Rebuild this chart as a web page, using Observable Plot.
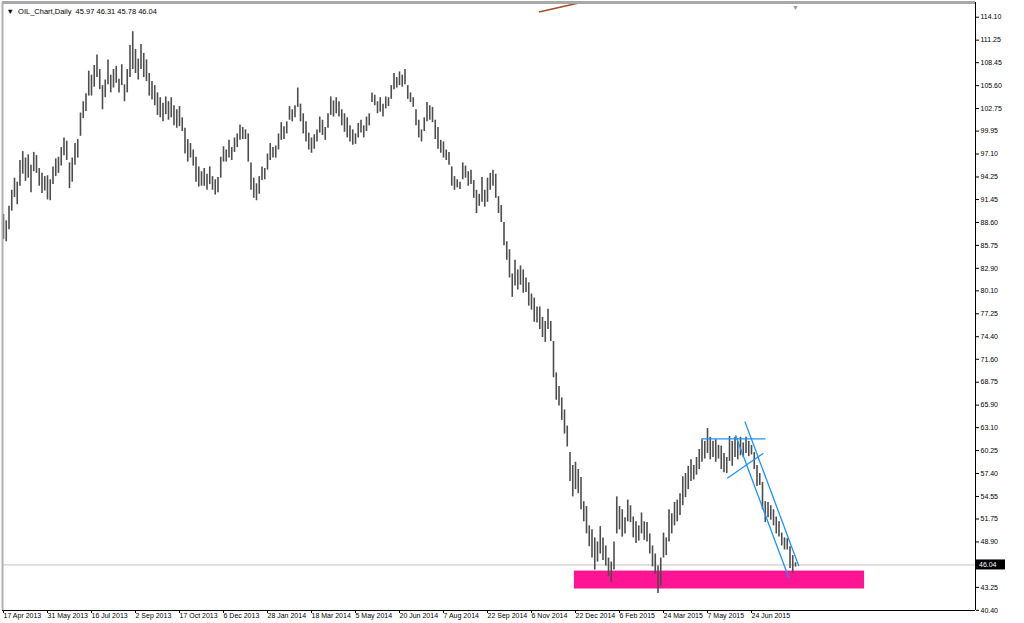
<!DOCTYPE html>
<html>
<head>
<meta charset="utf-8">
<script src="https://cdn.jsdelivr.net/npm/d3@7"></script>
<script src="https://cdn.jsdelivr.net/npm/@observablehq/plot@0.6"></script>
<style>
  html, body { margin: 0; padding: 0; background: #fff; }
  #chart svg { display: block; }
</style>
</head>
<body>
<div id="chart"></div>
<script>
// ---- Data (one bar = two trading days) ----
const symbolTitle = "OIL_Chart,Daily";
const lastBar = [45.97, 46.31, 45.78, 46.04]; // open, high, low, close

const highs = [
  89.6, 88.8, 90.6, 92.6, 94.1, 93.6, 96.3, 97.4, 96.6, 97.0, 95.7, 97.3, 96.9, 95.3, 94.7, 94.3,
  94.4, 93.9, 95.5, 96.5, 96.7, 97.9, 99.1, 98.7, 96.0, 96.6, 98.4, 98.9, 102.2, 103.6, 104.6, 107.4,
  106.9, 108.1, 109.4, 107.6, 105.6, 106.3, 108.8, 106.9, 107.6, 108.0, 106.4, 108.2, 105.7, 107.6, 110.6, 112.3,
  110.1, 108.9, 110.7, 109.6, 108.8, 107.1, 106.1, 105.6, 104.7, 104.1, 103.4, 104.2, 103.6, 104.1, 103.1, 102.6,
  103.0, 101.6, 100.3, 98.9, 98.4, 97.6, 96.7, 95.5, 94.9, 95.3, 94.6, 95.5, 94.3, 93.9, 94.2, 96.7,
  98.0, 97.6, 98.8, 97.9, 99.1, 99.6, 100.7, 100.4, 100.1, 99.6, 96.0, 94.1, 93.4, 94.3, 95.5, 95.3,
  97.1, 98.4, 97.9, 98.1, 99.6, 101.0, 100.5, 101.1, 103.0, 102.6, 103.1, 105.3, 103.3, 102.1, 101.1, 99.7,
  99.1, 99.5, 100.1, 101.7, 101.3, 100.4, 102.1, 104.2, 103.7, 104.1, 103.6, 102.6, 102.1, 101.6, 100.6, 100.1,
  99.6, 100.9, 101.3, 100.6, 101.7, 102.1, 104.7, 104.4, 103.6, 104.1, 103.3, 104.2, 104.1, 105.6, 107.1, 106.6,
  107.3, 106.9, 107.6, 105.6, 104.7, 104.1, 102.6, 101.3, 100.1, 101.6, 103.5, 103.1, 102.9, 101.3, 100.4, 98.8,
  98.6, 97.6, 97.3, 95.5, 94.3, 93.9, 93.6, 96.0, 95.6, 94.9, 95.1, 93.8, 92.6, 92.1, 94.2, 92.6,
  94.1, 94.7, 95.1, 94.6, 91.8, 90.7, 88.6, 86.2, 85.2, 82.2, 83.9, 82.7, 83.2, 82.7, 81.7, 81.1,
  79.7, 79.2, 78.1, 78.1, 76.8, 76.3, 77.8, 76.3, 73.8, 69.9, 68.2, 66.8, 65.3, 63.3, 60.0, 58.4,
  58.8, 57.9, 56.9, 53.9, 53.3, 50.9, 50.4, 49.4, 48.9, 50.8, 49.4, 48.4, 46.9, 46.4, 48.9, 54.5,
  53.3, 52.9, 51.9, 54.1, 53.4, 52.0, 51.4, 50.9, 52.5, 51.4, 51.3, 49.9, 48.4, 47.4, 45.9, 46.9,
  50.0, 49.4, 52.9, 52.4, 53.8, 54.1, 54.9, 57.0, 57.4, 58.3, 59.1, 58.4, 59.4, 60.4, 61.6, 61.4,
  63.0, 61.9, 61.4, 61.6, 60.9, 60.8, 59.9, 59.4, 62.0, 61.4, 61.9, 61.4, 61.9, 61.2, 61.9, 61.4,
  60.9, 60.0, 58.4, 57.4, 56.3, 53.9, 53.8, 53.4, 52.9, 52.0, 51.4, 50.0, 49.4, 49.3, 48.3, 47.2, 46.31
];
const lows = [
  86.5, 86.2, 87.7, 90.0, 91.7, 90.8, 93.1, 94.6, 93.7, 94.1, 92.3, 94.9, 94.7, 93.1, 92.2, 92.5,
  91.4, 91.3, 93.3, 94.3, 94.7, 95.6, 96.9, 96.3, 92.8, 93.6, 95.7, 96.6, 99.3, 101.5, 102.4, 104.3,
  104.3, 105.4, 106.6, 105.1, 102.6, 104.1, 105.7, 104.7, 105.3, 105.9, 104.7, 105.6, 103.6, 104.7, 106.6, 107.6,
  107.1, 106.3, 107.6, 106.6, 106.1, 104.3, 103.8, 103.1, 101.9, 101.6, 101.1, 102.0, 101.3, 101.6, 100.6, 100.3,
  100.5, 99.9, 97.1, 96.1, 96.6, 95.6, 93.6, 93.0, 93.1, 93.1, 92.6, 93.3, 92.6, 92.0, 92.3, 94.1,
  96.1, 96.1, 96.6, 96.3, 97.3, 97.9, 98.8, 98.9, 98.9, 96.1, 92.6, 91.6, 91.3, 92.1, 93.8, 93.9,
  95.1, 96.3, 96.6, 96.6, 97.6, 98.8, 98.9, 99.6, 101.3, 101.1, 101.6, 102.9, 101.1, 99.6, 98.6, 97.6,
  97.2, 97.7, 98.6, 99.7, 99.4, 98.8, 100.3, 101.9, 101.7, 102.1, 101.7, 100.6, 99.8, 99.1, 98.6, 98.2,
  98.3, 99.1, 99.7, 99.1, 99.9, 100.6, 103.5, 103.1, 102.1, 102.3, 101.7, 102.7, 103.0, 103.9, 105.1, 105.3,
  105.6, 105.4, 105.7, 103.9, 103.5, 102.9, 100.6, 99.1, 98.6, 99.9, 101.1, 101.3, 101.0, 98.9, 97.7, 97.2,
  96.6, 96.3, 95.7, 93.1, 92.6, 92.9, 92.7, 93.9, 94.1, 93.1, 93.3, 91.6, 89.7, 90.6, 91.1, 90.5,
  91.1, 92.6, 93.1, 91.6, 89.7, 88.6, 85.7, 83.9, 81.7, 79.3, 80.7, 80.2, 80.8, 79.8, 79.9, 78.2,
  77.7, 76.2, 76.1, 75.3, 74.3, 73.7, 75.3, 73.8, 69.3, 66.5, 65.8, 64.0, 62.3, 60.7, 56.4, 54.5,
  55.4, 54.9, 52.9, 51.4, 49.9, 48.3, 46.9, 45.4, 46.4, 47.4, 46.6, 45.9, 44.6, 43.9, 45.4, 49.9,
  50.4, 49.5, 49.9, 51.4, 51.3, 49.4, 48.7, 49.0, 49.9, 49.1, 48.9, 47.4, 45.8, 44.9, 42.5, 43.4,
  46.9, 47.2, 48.9, 49.9, 50.9, 51.4, 52.2, 53.4, 54.4, 55.4, 56.4, 56.6, 57.2, 57.9, 58.8, 59.2,
  59.9, 59.1, 59.4, 58.8, 59.2, 57.9, 57.5, 57.4, 58.9, 58.3, 59.4, 59.1, 59.6, 59.4, 59.9, 59.5,
  59.7, 57.9, 55.8, 55.9, 52.9, 51.3, 51.9, 51.6, 50.9, 49.9, 49.5, 48.4, 47.9, 47.9, 45.6, 45.0, 45.78
];

const dateLabels = ["17 Apr 2013","31 May 2013","16 Jul 2013","2 Sep 2013","17 Oct 2013","6 Dec 2013",
  "28 Jan 2014","18 Mar 2014","5 May 2014","20 Jun 2014","7 Aug 2014","22 Sep 2014","6 Nov 2014",
  "22 Dec 2014","6 Feb 2015","24 Mar 2015","7 May 2015","24 Jun 2015"];
const dateLabelBars = [0,16,32,48,64,80,96,112,128,144,160,176,192,208,224,240,256,272];

const priceTicks = [114.10,111.25,108.45,105.60,102.75,99.95,97.10,94.25,91.45,88.60,85.75,82.90,
  80.10,77.25,74.40,71.60,68.75,65.90,63.10,60.25,57.40,54.55,51.75,48.90,43.25,40.40];

const supportZone = [{x1: 207.6, x2: 313.1, y1: 43.05, y2: 45.28}];
const blueTrendLines = [
  {x1: 253.7, y1: 61.70, x2: 277.1, y2: 61.70},
  {x1: 263.2, y1: 56.82, x2: 276.3, y2: 59.93},
  {x1: 266.2, y1: 62.16, x2: 285.6, y2: 44.41},
  {x1: 269.6, y1: 63.85, x2: 289.2, y2: 45.90}
];
const brownTrendLine = [{x1: 194.7, y1: 114.76, x2: 213.5, y2: 116.2}];
const shiftMarkBar = [288];

// ---- Build table ----
const bars = highs.map((h, i) => ({i, high: h, low: lows[i]}));
const xDomain = [-0.36, 353.45];
const yDomain = [40.38, 115.93];
const fmt = d3.format(".2f");
const font = "'Liberation Sans', Arial, sans-serif";

const chart = Plot.plot({
  width: 1024,
  height: 623,
  marginLeft: 2,
  marginRight: 49,
  marginTop: 2,
  marginBottom: 13,
  style: {fontFamily: font, background: "#fff", color: "#000"},
  x: {type: "linear", domain: xDomain, axis: null},
  y: {domain: yDomain, axis: null},
  marks: [
    Plot.ruleY([lastBar[3]], {stroke: "#c4c4c4", strokeWidth: 1}),
    Plot.rect(supportZone, {x1: "x1", x2: "x2", y1: "y1", y2: "y2", fill: "#ff1493"}),
    Plot.ruleX(bars, {x: "i", y1: "low", y2: "high", stroke: "#4d4d4d", strokeWidth: 1.6}),
    Plot.link(blueTrendLines, {x1: "x1", y1: "y1", x2: "x2", y2: "y2", stroke: "#1e90ff", strokeWidth: 1.3}),
    Plot.link(brownTrendLine, {x1: "x1", y1: "y1", x2: "x2", y2: "y2", stroke: "#a0522d", strokeWidth: 1.6, clip: true}),
    Plot.ruleY([yDomain[1]], {stroke: "#a8a8a8", strokeWidth: 3}),
    Plot.ruleX([xDomain[0]], {stroke: "#b0b0b0", strokeWidth: 2}),
    Plot.ruleX([xDomain[1]], {stroke: "#000", strokeWidth: 1}),
    Plot.ruleY([yDomain[0]], {stroke: "#000", strokeWidth: 1}),
    Plot.text(shiftMarkBar, {x: d => d, frameAnchor: "top", dy: 3, text: () => "▼", fill: "#9a9a9a", fontSize: 7}),
    Plot.text([`▼  ${symbolTitle}  ${lastBar.map(fmt).join(" ")}`], {
      frameAnchor: "top-left", dx: 4, dy: 6, textAnchor: "start", fontSize: 7.5, fill: "#000"
    }),
    Plot.axisY(priceTicks, {
      anchor: "right", tickSize: 3, tickPadding: 2, fontSize: 7,
      tickFormat: fmt, stroke: "#000", fill: "#000"
    }),
    Plot.axisX(dateLabelBars, {
      anchor: "bottom", tickSize: 3, tickPadding: 0, fontSize: 7, textAnchor: "start",
      tickFormat: d => dateLabels[dateLabelBars.indexOf(d)], stroke: "#000", fill: "#000"
    })
  ]
});

document.getElementById("chart").appendChild(chart);

// current price box on the right axis
const yScale = chart.scale("y");
const yp = yScale.apply(lastBar[3]);
const svg = d3.select(chart);
const g = svg.append("g");
g.append("rect").attr("x", 976).attr("y", yp - 5).attr("width", 29).attr("height", 10).attr("fill", "#000");
g.append("text").attr("x", 979).attr("y", yp + 2.5).attr("fill", "#fff")
  .attr("text-anchor", "start")
  .attr("font-size", 7).attr("font-family", font).text(fmt(lastBar[3]));
</script>
</body>
</html>
